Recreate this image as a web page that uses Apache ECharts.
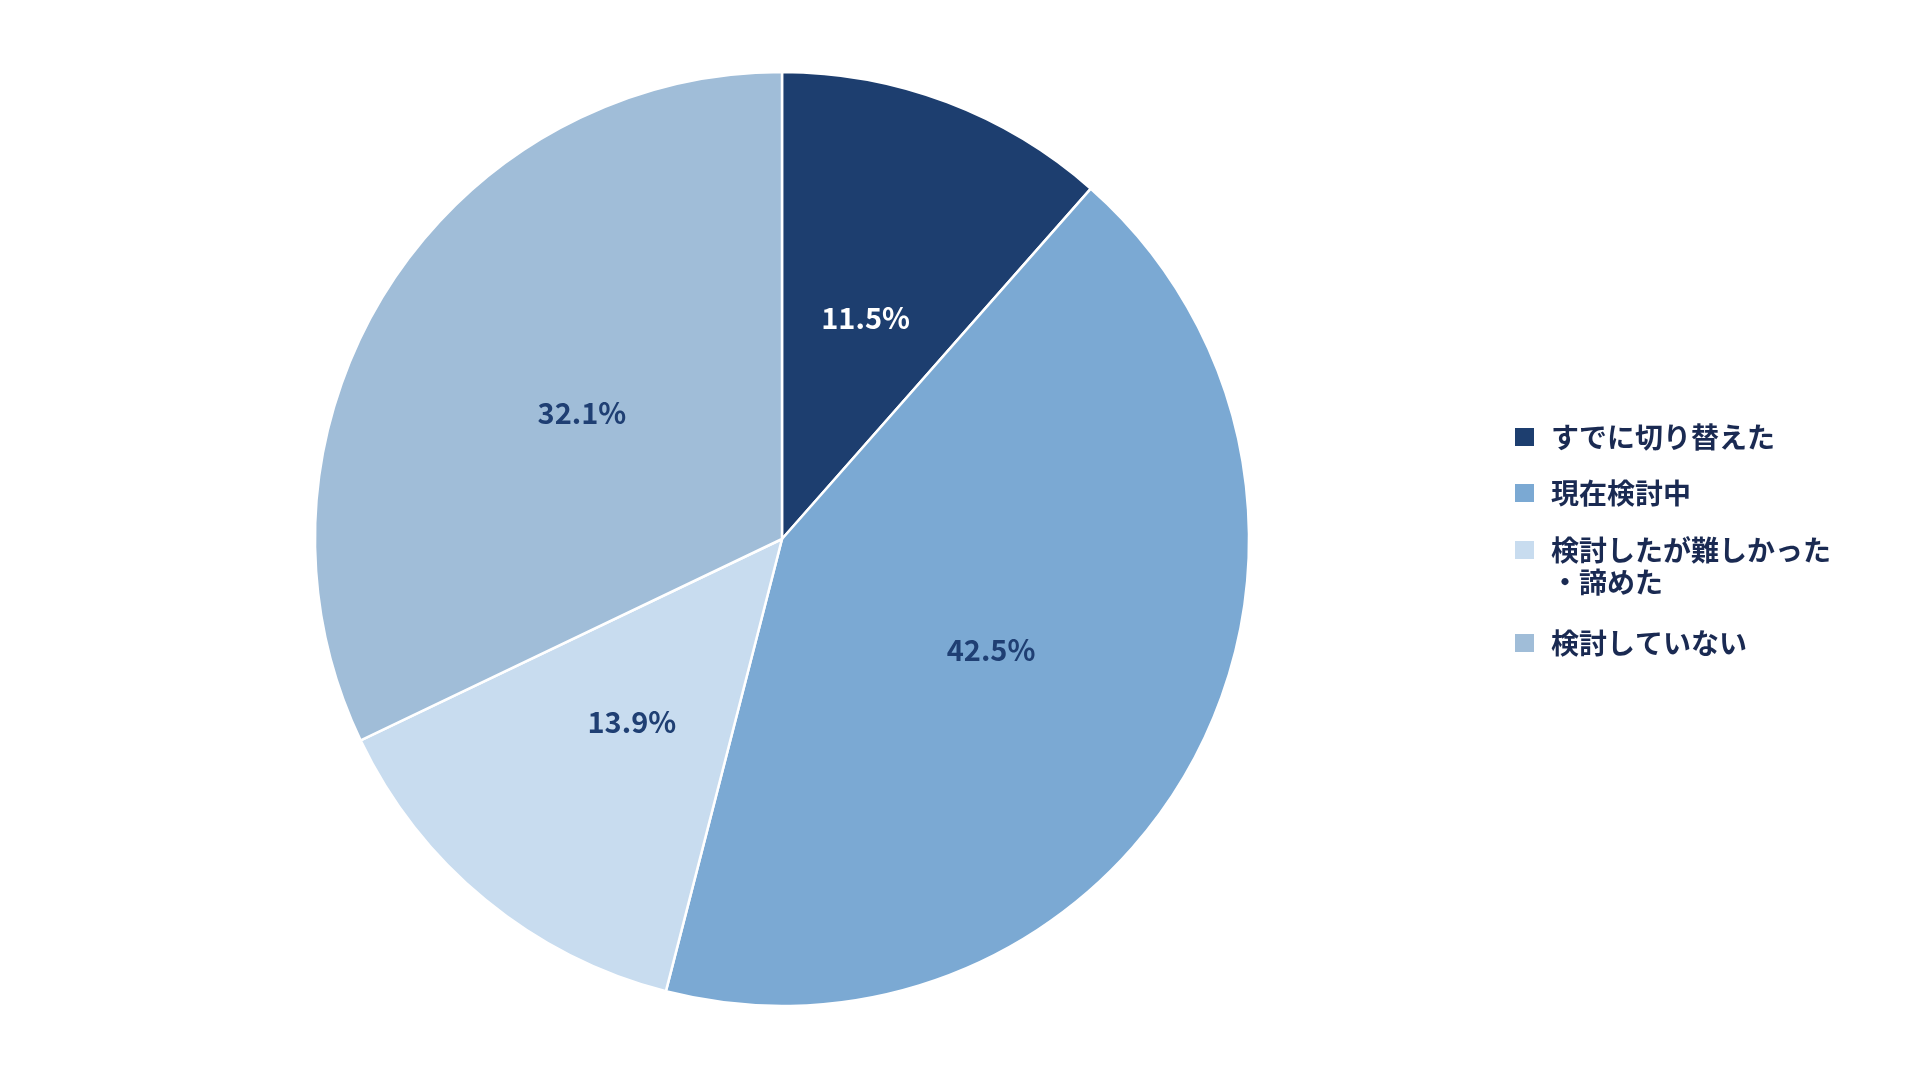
<!DOCTYPE html>
<html>
<head>
<meta charset="utf-8">
<script src="https://cdn.jsdelivr.net/npm/echarts@6/dist/echarts.min.js"></script>
<style>
html,body{margin:0;padding:0;background:#fff;}
#chart{width:1920px;height:1080px;}
</style>
</head>
<body>
<div id="chart"></div>
<script>
const categories = ['すでに切り替えた', '現在検討中', '検討したが難しかった\n・諦めた', '検討していない'];
const values = [11.5, 42.5, 13.9, 32.1];
const colors = ['#1d3e6f', '#7ba9d3', '#c8dcef', '#a0bdd8'];
const labelColors = ['#ffffff', '#1f3f73', '#1f3f73', '#1f3f73'];

const FONT = 'Noto Sans CJK JP';
const chart = echarts.init(document.getElementById('chart'));

const legendCenters = [437, 493, 550, 643];
const LH = 32;
const legends = categories.map((name, i) => {
  const multi = name.indexOf('\n') >= 0;
  return {
    orient: 'vertical',
    left: 1513,
    top: multi ? legendCenters[i] - LH * 1.5 : legendCenters[i] - LH / 2,
    padding: 0,
    itemWidth: 21,
    itemHeight: 20,
    icon: 'rect',
    selectedMode: false,
    data: [name],
    formatter: n => (n.indexOf('\n') >= 0 ? '\n' + n : n),
    textStyle: {
      fontFamily: FONT,
      fontSize: 28,
      fontWeight: 'bold',
      color: '#1a2a52',
      lineHeight: LH,
      padding: [0, 0, 0, 11]
    }
  };
});

chart.setOption({
  backgroundColor: '#ffffff',
  animation: false,
  color: colors,
  legend: legends,
  series: [{
    type: 'pie',
    center: [782, 539],
    radius: [0, 467],
    startAngle: 90,
    clockwise: true,
    avoidLabelOverlap: false,
    itemStyle: { borderColor: '#ffffff', borderWidth: 2.5 },
    label: {
      show: true,
      position: 'inside',
      fontFamily: FONT,
      fontSize: 29,
      fontWeight: 'bold',
      formatter: p => p.value.toFixed(1) + '%'
    },
    labelLine: { show: false },
    emphasis: { disabled: true },
    data: categories.map((c, i) => ({
      name: c,
      value: values[i],
      label: { color: labelColors[i] }
    }))
  }]
});
</script>
</body>
</html>
